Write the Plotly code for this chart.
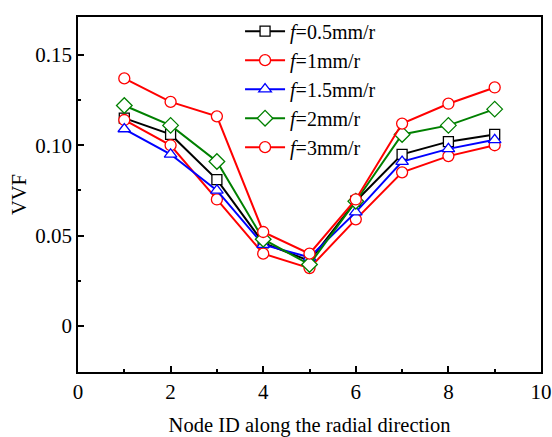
import plotly.graph_objects as go

nodes = [1, 2, 3, 4, 5, 6, 7, 8, 9]
f05 = [0.115, 0.106, 0.081, 0.046, 0.036, 0.069, 0.095, 0.102, 0.106]
f1 = [0.114, 0.100, 0.070, 0.040, 0.032, 0.059, 0.085, 0.094, 0.100]
f15 = [0.109, 0.095, 0.075, 0.045, 0.038, 0.063, 0.091, 0.098, 0.103]
f2 = [0.122, 0.111, 0.091, 0.048, 0.034, 0.069, 0.106, 0.111, 0.120]
f3 = [0.137, 0.124, 0.116, 0.052, 0.040, 0.070, 0.112, 0.123, 0.132]

series = [
    ("<i>f</i>=0.5mm/r", f05, "black", "square", 10),
    ("<i>f</i>=1mm/r", f1, "red", "circle", 11),
    ("<i>f</i>=1.5mm/r", f15, "blue", "triangle-up", 11),
    ("<i>f</i>=2mm/r", f2, "green", "diamond", 12),
    ("<i>f</i>=3mm/r", f3, "red", "circle", 11),
]

fam = "Liberation Serif"
fig = go.Figure()
for name, vals, color, sym, sz in series:
    fig.add_trace(go.Scatter(
        x=nodes, y=vals, name=name, mode="lines+markers",
        line=dict(color=color, width=2),
        marker=dict(symbol=sym, size=sz, color="white",
                    line=dict(color=color, width=1.3)),
    ))

fig.update_layout(
    width=552, height=437,
    margin=dict(l=78, r=11, t=17, b=65),
    plot_bgcolor="white", paper_bgcolor="white",
    font=dict(family=fam, size=20, color="black"),
    showlegend=True,
    legend=dict(x=0.35, y=1.015, xanchor="left", yanchor="top",
                bgcolor="rgba(0,0,0,0)", font=dict(family=fam, size=20, color="black"),
                tracegroupgap=0, itemwidth=40),
)
fig.update_xaxes(
    range=[0, 10], tickvals=[0, 2, 4, 6, 8, 10],
    ticks="inside", ticklen=6, tickwidth=1.5, tickcolor="black",
    minor=dict(ticks="inside", ticklen=3, tickwidth=1.5, tickcolor="black", dtick=1),
    showline=True, linecolor="black", linewidth=1.5, mirror=True,
    showgrid=False, zeroline=False, automargin=False,
    title=dict(text="Node ID along the radial direction", standoff=18,
               font=dict(family=fam, size=20.5, color="black")),
    tickfont=dict(family=fam, size=21, color="black"),
)
fig.update_yaxes(
    range=[-0.0255, 0.171], tickvals=[0, 0.05, 0.10, 0.15],
    ticktext=["0", "0.05", "0.10", "0.15"],
    ticks="inside", ticklen=6, tickwidth=1.5, tickcolor="black",
    minor=dict(ticks="inside", ticklen=3, tickwidth=1.5, tickcolor="black",
               tickvals=[0.025, 0.075, 0.125]),
    showline=True, linecolor="black", linewidth=1.5, mirror=True,
    showgrid=False, zeroline=False, automargin=False,
    title=dict(text="VVF", standoff=3,
               font=dict(family=fam, size=20.5, color="black")),
    tickfont=dict(family=fam, size=21, color="black"),
)

fig.write_html("out.html")
